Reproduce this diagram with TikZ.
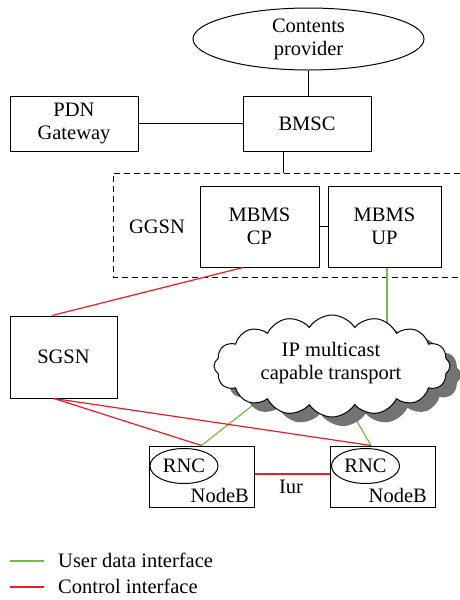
\documentclass[tikz,border=0pt]{standalone}
\usepackage{fontspec}
\setmainfont{Liberation Serif}
\usetikzlibrary{shapes.geometric,shapes.symbols,shadows,calc}
\definecolor{usergreen}{RGB}{112,190,70}
\definecolor{ctrlred}{RGB}{237,28,36}
\begin{document}
\begin{tikzpicture}[x=1pt,y=-1pt,
  every node/.style={font=\fontsize{20.5}{23}\selectfont, align=center, text=black},
  box/.style={draw, line width=1pt, inner sep=0pt},
  ell/.style={draw, ellipse, line width=1pt, inner sep=0pt},
  link/.style={line width=1pt},
  userlink/.style={line width=1.2pt, draw=usergreen},
  ctrllink/.style={line width=1.2pt, draw=ctrlred},
  lbl/.style={inner sep=0pt}]
\useasboundingbox (0,0) rectangle (460,600);

% nodes
\node[ell, minimum width=231pt, minimum height=62pt] (cp) at (308.5,39) {Contents\\provider};
\node[box, minimum width=128pt, minimum height=55pt] (pdn) at (74,123.5) {PDN\\Gateway};
\node[box, minimum width=128pt, minimum height=55pt] (bmsc) at (307,123.5) {BMSC};
\draw[line width=1pt, dash pattern=on 6pt off 4pt] (460,173) -- (113,173) -- (113,277) -- (460,277);
\node[lbl] (ggsn) at (157,227) {GGSN};
\node[box, minimum width=119pt, minimum height=81pt] (mcp) at (259.5,226.5) {MBMS\\CP};
\node[box, minimum width=113pt, minimum height=81pt] (mup) at (384.5,226.5) {MBMS\\UP};
\node[box, minimum width=107pt, minimum height=82pt] (sgsn) at (63.5,357) {SGSN};
\node[box, minimum width=105pt, minimum height=61pt] (nb1) at (201.5,476.5) {};
\node[box, minimum width=105pt, minimum height=61pt] (nb2) at (382.5,476.5) {};
\node[ell, minimum width=68pt, minimum height=35pt] (rnc1) at (184,466) {RNC};
\node[ell, minimum width=68pt, minimum height=35pt] (rnc2) at (365.5,466) {RNC};
\node[lbl, anchor=base east] (nbl1) at (249,502) {NodeB};
\node[lbl, anchor=base east] (nbl2) at (427,502) {NodeB};

% black links
\draw[link] (cp.south) -- (bmsc.north -| cp.south);
\draw[link] (pdn.east) -- (bmsc.west);
\coordinate (bmscdown) at ([xshift=-24pt]bmsc.south);
\draw[link] (bmscdown) -- (bmscdown |- 0,173);
\draw[link] (mcp.east) -- (mup.west);

% green links (drawn below the cloud)
\coordinate (cl1) at (285,380);
\coordinate (cl2) at (340,392);
\coordinate (nb2top) at ([xshift=-11.5pt]nb2.north);
\coordinate (upbot) at ([xshift=2.5pt]mup.south);
\coordinate (upcl) at ([yshift=-60pt]upbot);
\draw[userlink] (upbot) -- (upcl);
\draw[userlink] (nb1.north) -- (cl1);
\draw[userlink] (nb2top) -- (cl2);

% cloud
\node[cloud, draw, line width=1pt, fill=white, cloud puffs=16, cloud puff arc=115, aspect=2.3,
      minimum width=236pt, minimum height=102pt, inner sep=0pt,
      drop shadow={shadow xshift=11pt, shadow yshift=-9pt, fill=black!55, opacity=1}]
      (cloud) at (332,366) {};
\node[lbl] (cloudtxt) at (331,363) {IP multicast\\capable transport};

% red links
\coordinate (cpbot) at ([xshift=-16.5pt]mcp.south);
\coordinate (sgsntop) at ([xshift=-11.5pt]sgsn.north);
\coordinate (sgsnbot) at ([xshift=-9.5pt]sgsn.south);
\draw[ctrllink] (cpbot) -- (sgsntop);
\draw[ctrllink] (sgsnbot) -- (nb1.north);
\draw[ctrllink] (sgsnbot) -- (nb2top);
\draw[ctrllink] (nb1.east |- 0,474) -- (nb2.west |- 0,474);
\node[lbl, anchor=base] (iur) at (291,493) {Iur};

% legend
\coordinate (lg1a) at (10,561);
\coordinate (lg1b) at (44,561);
\coordinate (lg2a) at (10,587);
\coordinate (lg2b) at (44,587);
\draw[userlink, line width=1.5pt] (lg1a) -- (lg1b);
\draw[ctrllink, line width=1.5pt] (lg2a) -- (lg2b);
\node[lbl, anchor=base west] (lgt1) at (58,567) {User data interface};
\node[lbl, anchor=base west] (lgt2) at (58,593) {Control interface};
\end{tikzpicture}
\end{document}
